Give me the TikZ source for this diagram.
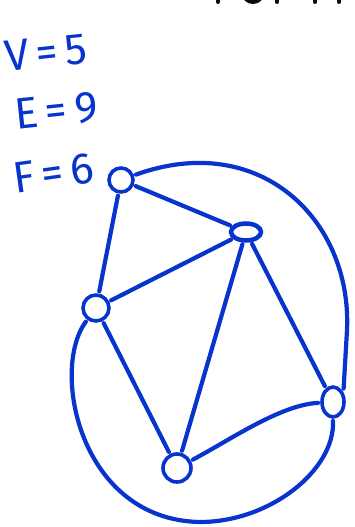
\documentclass[tikz,border=0pt]{standalone}
\usepackage{fontspec}
\usepackage{tikz}
\usetikzlibrary{shapes.geometric}
\newfontfamily\handfont{Fira Sans}
\definecolor{pen}{RGB}{6,52,204}
\definecolor{ink}{RGB}{10,10,10}

\begin{document}
\begin{tikzpicture}[x=1pt, y=-1pt,
    vtx/.style={circle, draw=pen, line width=3.6pt, inner sep=0pt, outer sep=4pt},
    edge/.style={draw=pen, line width=4.2pt, line cap=round},
    tally/.style={text=pen, font=\handfont\fontsize{44}{44}\selectfont, anchor=base west, inner sep=0pt}
  ]
  \useasboundingbox (0,0) rectangle (354,527);

  % --- counts ---
  \node[tally, rotate=6] (vcount) at (6,72) {V\,=\,5};
  \node[tally, rotate=6] (ecount) at (16,130) {E\,=\,9};
  \node[tally, rotate=8] (fcount) at (15,194) {F\,=\,6};

  % black writing cut off at the top edge
  \fill[ink] (253,-6) ellipse (11 and 10);
  \foreach \bx in {218,277,315,339} {
      \draw[ink, line width=4pt, line cap=round] (\bx,-4) -- (\bx,2);
  }

  % --- vertices ---
  \node[vtx, minimum size=24pt] (A) at (121,180) {};
  \node[vtx, ellipse, minimum width=30pt, minimum height=17pt, line width=4.5pt] (B) at (246,232) {};
  \node[vtx, minimum size=26pt] (C) at (96,308) {};
  \node[vtx, minimum size=28pt] (D) at (177,468) {};
  \node[vtx, ellipse, minimum width=22pt, minimum height=30pt] (E) at (333,402) {};

  % --- inner edges ---
  \draw[edge] (A) -- (B);
  \draw[edge] (A) -- (C);
  \draw[edge] (C) -- (B);
  \draw[edge] (B) -- (D);
  \draw[edge] (B) -- (E);
  \draw[edge] (C) -- (D);
  \draw[edge] (D) .. controls (230,440) and (280,405) .. (E);

  % --- outer edges ---
  \draw[edge] (A) .. controls (260,130) and (352,220) .. (347,330) -- (E.north east);
  \draw[edge] (C) .. controls (50,370) and (80,520) .. (200,522)
                  .. controls (270,522) and (335,470) .. (E.south);
\end{tikzpicture}
\end{document}
